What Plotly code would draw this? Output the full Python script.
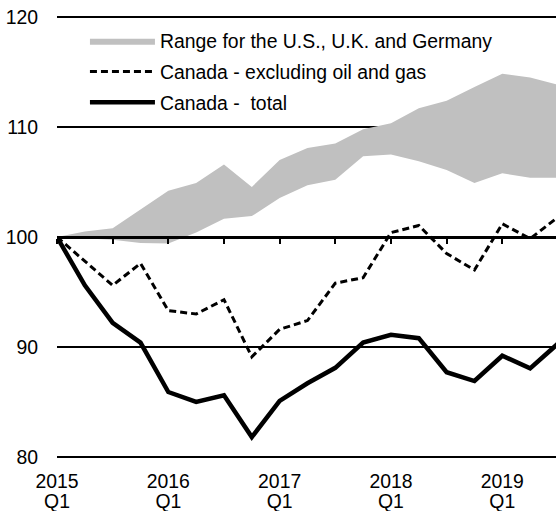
import plotly.graph_objects as go

QUARTERS = ["2015 Q1", "2015 Q2", "2015 Q3", "2015 Q4",
            "2016 Q1", "2016 Q2", "2016 Q3", "2016 Q4",
            "2017 Q1", "2017 Q2", "2017 Q3", "2017 Q4",
            "2018 Q1", "2018 Q2", "2018 Q3", "2018 Q4",
            "2019 Q1", "2019 Q2", "2019 Q3"]

CANADA_TOTAL = [100, 95.6, 92.2, 90.4, 85.9, 85.0, 85.6, 81.8, 85.1, 86.7,
                88.1, 90.4, 91.1, 90.8, 87.7, 86.9, 89.2, 88.05, 90.3]
CANADA_EXCL_OIL_GAS = [100, 97.8, 95.6, 97.6, 93.3, 93.0, 94.3, 89.1, 91.6, 92.4,
                       95.8, 96.3, 100.4, 101.05, 98.5, 97.0, 101.2, 99.85, 101.8]
RANGE_UPPER = [100, 100.5, 100.8, 102.5, 104.2, 104.9, 106.6, 104.55, 107.0, 108.1,
               108.5, 109.8, 110.35, 111.7, 112.4, 113.65, 114.85, 114.5, 113.85]
RANGE_LOWER = [100, 99.9, 99.75, 99.45, 99.4, 100.4, 101.65, 101.9, 103.55, 104.7,
               105.2, 107.35, 107.5, 106.9, 106.1, 104.9, 105.8, 105.4, 105.4]

TICK_QUARTERS = ["2015 Q1", "2016 Q1", "2017 Q1", "2018 Q1", "2019 Q1"]
TICK_YEARS = ["2015", "2016", "2017", "2018", "2019"]
TICK_QTR = ["Q1", "Q1", "Q1", "Q1", "Q1"]
Y_TICKS = [80, 90, 100, 110, 120]

FONT = "Liberation Sans, Arial, sans-serif"
FS = 19.4

fig = go.Figure()
fig.add_trace(go.Scatter(x=QUARTERS, y=RANGE_LOWER, mode="lines",
                         line=dict(width=0, color="#c0c0c0"), showlegend=False,
                         legendgroup="range", hoverinfo="skip", xaxis="x2"))
fig.add_trace(go.Scatter(x=QUARTERS, y=RANGE_UPPER, mode="lines", fill="tonexty",
                         fillcolor="#c0c0c0", line=dict(width=0, color="#c0c0c0"),
                         legendgroup="range",
                         name="Range for the U.S., U.K. and Germany", xaxis="x2"))
fig.add_trace(go.Scatter(x=QUARTERS, y=CANADA_EXCL_OIL_GAS, mode="lines",
                         line=dict(color="black", width=3, dash="7px,4px"),
                         legendgroup="excl",
                         name="Canada - excluding oil and gas", xaxis="x3"))
fig.add_trace(go.Scatter(x=QUARTERS, y=CANADA_TOTAL, mode="lines",
                         line=dict(color="black", width=4.5),
                         legendgroup="total",
                         name="Canada -  total"))

common_x = dict(type="category", categoryorder="array", categoryarray=QUARTERS,
                showgrid=False, zeroline=False, automargin=False)

fig.update_layout(
    width=556, height=511,
    margin=dict(l=57, r=0, t=16, b=53, autoexpand=False),
    paper_bgcolor="white", plot_bgcolor="white",
    font=dict(family=FONT, size=FS, color="black"),
    showlegend=True,
    legend=dict(x=0.056, y=0.987, xanchor="left", yanchor="top",
                bgcolor="rgba(0,0,0,0)", itemwidth=65, traceorder="grouped",
                font=dict(family=FONT, size=FS), tracegroupgap=2.5),
    xaxis=dict(**common_x, range=[0, 17.93], tickvals=TICK_QUARTERS,
               ticktext=TICK_YEARS, ticks="outside", ticklen=6,
               tickcolor="rgba(0,0,0,0)", showline=False,
               tickfont=dict(family=FONT, size=FS)),
    xaxis2=dict(**common_x, matches="x", overlaying="x", anchor="free",
                position=0.5, side="bottom", showline=True, linewidth=3,
                linecolor="black", ticks="outside", ticklen=5, tickwidth=2,
                tickcolor="black", tickvals=QUARTERS[::2],
                showticklabels=False),
    xaxis3=dict(**common_x, matches="x", overlaying="x", anchor="y",
                side="bottom", showline=False, tickvals=TICK_QUARTERS,
                ticktext=TICK_QTR, ticks="outside", ticklen=26,
                tickcolor="rgba(0,0,0,0)", tickfont=dict(family=FONT, size=FS)),
    yaxis=dict(range=[79.9, 120.1], tickvals=Y_TICKS, showgrid=True,
               gridcolor="black", gridwidth=1.5, zeroline=False, showline=False,
               ticks="outside", ticklen=14, tickcolor="rgba(0,0,0,0)",
               automargin=False, tickfont=dict(family=FONT, size=FS)),
)

fig.write_html("out.html", config={"displayModeBar": False},
               post_script="document.body.style.margin='0';document.body.style.overflow='hidden';")
